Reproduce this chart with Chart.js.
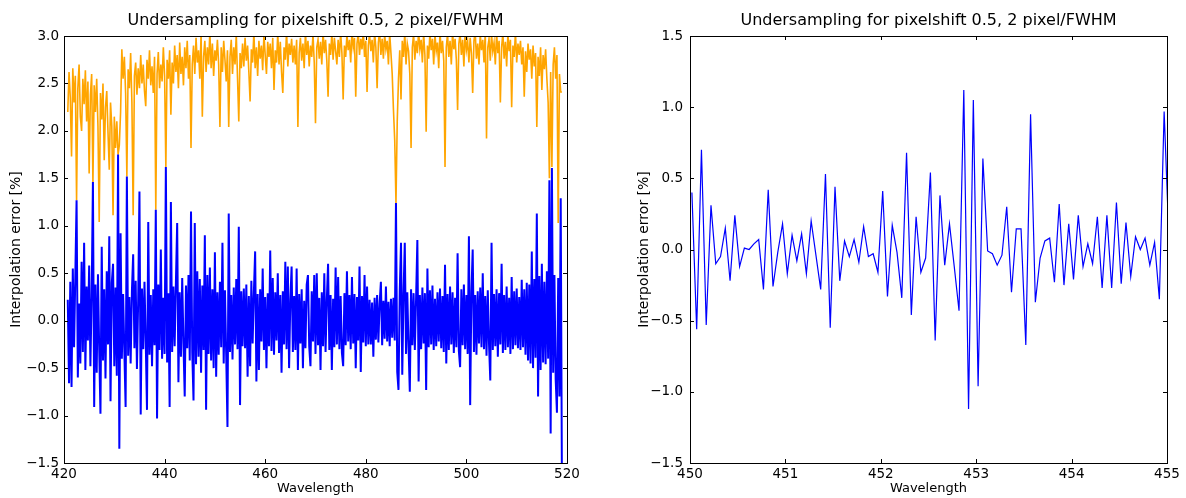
<!DOCTYPE html>
<html>
<head>
<meta charset="utf-8">
<title>Undersampling for pixelshift 0.5, 2 pixel/FWHM</title>
<script src="https://cdn.jsdelivr.net/npm/chart.js@4.4.0/dist/chart.umd.min.js"></script>
<style>
  html, body { margin: 0; padding: 0; background: #fff; }
  #wrap { position: relative; width: 1186px; height: 498px; }
  #left-chart { position: absolute; left: 0; top: 0; width: 590px; height: 498px; }
  #right-chart { position: absolute; left: 628px; top: 0; width: 558px; height: 498px; }
</style>
</head>
<body>
<div id="wrap">
  <canvas id="left-chart" width="590" height="498"></canvas>
  <canvas id="right-chart" width="558" height="498"></canvas>
</div>
<script>
/* Two panels: full spectrum (420-520 nm) and a 5 nm close-up of the error curve.
 * Values are read off the reference picture; the left panel is resampled to 0.25 nm,
 * the right panel keeps its 0.05 nm sampling. */

var plotTitle = 'Undersampling for pixelshift 0.5, 2 pixel/FWHM';
var xLabel = 'Wavelength';
var yLabel = 'Interpolation error [%]';

// left panel: sampling grid (first wavelength, step in nm)
var leftStart = 420.75;
var leftStep = 0.25;

// interpolation error over the whole range (blue), 20 samples = 5 nm per row
var errorFull = [
  0.22, -0.66, 0.41, -0.70, 0.55, -0.28, 0.47, 1.27, -0.60, 0.18, -0.45, 0.62, -0.33, 0.82, -0.52, 0.36, -0.21, 0.58, -0.48, 0.27,
  1.46, -0.91, 0.38, -0.55, 0.49, -0.30, -0.98, 0.78, -0.42, 0.33, -0.61, 0.52, -0.25, 0.89, -0.85, 0.40, 0.60, -0.48, 0.35, -0.58,
  1.75, -1.35, 0.92, -0.40, 0.28, -0.33, -0.91, 1.52, -0.37, 0.25, -0.45, 0.31, 0.70, -0.29, 0.42, -0.51, 0.22, 1.36, -0.99, 0.34,
  -0.30, 0.41, -0.22, -0.94, 1.04, -0.36, 0.27, -0.48, 0.33, -0.26, 1.17, -1.03, 0.38, -0.31, 0.75, -0.40, 0.24, -0.35, 1.62, -0.44,
  0.29, -0.91, 1.25, -0.33, 0.36, -0.27, 0.41, 1.03, -0.65, 0.30, -0.38, 0.45, -0.24, -0.80, 0.37, -0.29, 0.48, -0.42, 1.15, -0.34,
  -0.84, 1.03, -0.46, 0.52, -0.38, 0.44, -0.55, 0.37, -0.31, 0.90, -0.94, 0.48, -0.35, 0.56, -0.42, 0.33, -0.50, 0.72, -0.59, 0.30,
  -0.36, 0.41, -0.28, 0.82, -0.45, 0.32, -0.37, -1.12, 1.13, -0.33, 0.27, -0.41, 0.35, -0.25, 0.44, -0.30, 0.99, -0.89, 0.31, -0.27,
  0.34, -0.29, 0.38, -0.59, 0.26, -0.48, 0.42, -0.24, 0.30, 0.73, -0.64, 0.28, -0.52, 0.33, -0.22, 0.55, -0.31, 0.25, -0.50, 0.29,
  -0.27, 0.74, -0.32, 0.45, -0.36, 0.30, -0.21, 0.50, -0.34, 0.27, -0.55, 0.31, -0.25, 0.62, -0.30, 0.57, -0.50, 0.22, 0.57, -0.33,
  0.26, -0.31, 0.55, -0.52, 0.28, -0.24, 0.33, -0.50, 0.21, -0.29, 0.38, 0.48, -0.27, -0.48, 0.31, -0.22, 0.48, -0.35, 0.50, -0.26,
  0.24, -0.52, 0.30, -0.27, 0.50, -0.33, 0.22, 0.60, -0.31, 0.27, -0.52, 0.23, -0.28, 0.56, -0.25, 0.46, -0.30, 0.26, -0.34, -0.48,
  0.29, -0.26, 0.52, -0.22, 0.27, -0.30, 0.46, -0.24, 0.28, -0.50, 0.25, -0.21, 0.57, -0.54, 0.26, -0.23, 0.48, -0.27, 0.36, -0.25,
  0.22, -0.25, 0.19, -0.38, 0.24, -0.20, 0.27, -0.23, 0.18, 0.41, -0.26, 0.21, -0.19, 0.36, -0.22, 0.20, -0.27, 0.23, -0.18, 0.24,
  -0.21, 1.24, -0.54, -0.73, 0.31, 0.82, -0.57, 0.28, 0.82, -0.35, 0.30, -0.28, -0.75, 0.33, -0.26, 0.29, -0.31, 0.24, 0.85, -0.64,
  0.27, -0.30, 0.35, -0.24, 0.29, -0.73, 0.55, -0.28, 0.32, -0.25, 0.37, -0.31, 0.23, -0.27, 0.30, -0.22, 0.34, -0.29, 0.26, -0.33,
  0.59, -0.45, 0.28, -0.31, 0.36, -0.25, 0.30, -0.34, 0.24, -0.28, 0.71, -0.32, -0.49, 0.33, -0.26, 0.38, -0.30, 0.27, -0.35, 0.89,
  -0.89, 0.30, 0.75, -0.33, 0.27, -0.36, 0.31, -0.24, 0.35, -0.28, 0.50, -0.30, 0.26, -0.37, 0.32, -0.25, -0.63, 0.82, -0.31, 0.28,
  -0.27, 0.33, -0.38, 0.29, -0.25, 0.60, -0.34, 0.27, -0.31, 0.36, -0.28, 0.24, -0.35, 0.46, -0.30, 0.31, -0.26, 0.34, -0.29, 0.25,
  -0.31, 0.43, -0.28, 0.33, -0.36, 0.40, -0.42, 0.38, -0.45, 0.73, -0.50, 0.44, -0.39, 1.13, -0.80, 0.47, -0.52, 0.60, -0.44, 0.41,
  -0.46, 0.52, -0.40, 1.48, -1.19, 1.61, -0.55, 0.48, -0.62, -0.97, 0.45, -0.80, 1.29, -1.80
];

// scaled spectrum drawn above the error (orange), same grid
var spectrumScaled = [
  2.20, 2.62, 2.35, 1.73, 2.66, 2.30, 2.58, 1.27, 2.45, 2.70, 2.15, 2.00, 2.55, 2.28, 2.64, 2.10, 2.52, 1.55, 2.38, 2.60,
  1.45, 2.48, 2.20, 2.55, 2.05, 1.04, 2.40, 2.12, 2.50, 1.69, 2.25, 2.42, 1.98, 1.59, 2.30, 2.05, 1.11, 2.15, 1.82, 2.10,
  1.75, 1.85, 2.20, 2.86, 2.55, 2.78, 2.40, 1.52, 2.65, 2.45, 2.82, 2.30, 1.11, 2.58, 2.72, 2.38, 2.66, 2.45, 2.80, 2.50,
  2.70, 2.42, 2.26, 2.75, 2.55, 2.85, 2.48, 2.68, 2.40, 2.78, 1.17, 2.60, 2.83, 2.45, 2.70, 2.52, 2.88, 2.58, 1.62, 2.75,
  2.55, 2.85, 2.17, 2.72, 2.50, 2.90, 2.62, 2.80, 2.45, 2.93, 2.60, 2.78, 2.48, 2.88, 2.66, 2.95, 2.55, 2.80, 1.82, 2.70,
  2.90, 2.60, 2.98, 2.72, 2.85, 2.55, 3.02, 2.15, 2.78, 2.95, 2.62, 2.88, 2.70, 3.05, 2.66, 2.92, 2.58, 2.85, 2.74, 2.96,
  2.70, 2.04, 2.88, 2.62, 2.95, 2.75, 2.52, 2.85, 2.04, 2.78, 2.96, 2.60, 2.88, 2.70, 3.02, 2.55, 2.10, 2.82, 2.66, 2.92,
  2.68, 2.98, 2.74, 2.90, 2.62, 2.31, 2.86, 2.72, 3.04, 2.66, 2.88, 2.58, 2.95, 2.76, 2.90, 2.64, 3.02, 2.80, 2.60, 2.94,
  2.78, 2.92, 2.66, 2.98, 2.43, 2.85, 2.72, 3.03, 2.70, 2.94, 2.62, 2.40, 2.88, 2.75, 3.05, 2.68, 2.92, 2.80, 2.97, 2.72,
  2.90, 2.70, 2.96, 2.04, 2.82, 2.98, 2.74, 2.92, 2.66, 3.04, 2.80, 2.95, 2.68, 2.90, 2.78, 3.02, 2.72, 2.08, 2.88, 2.96,
  2.76, 2.94, 2.70, 3.05, 2.82, 2.96, 2.74, 2.36, 2.92, 2.80, 3.03, 2.75, 2.98, 2.84, 2.70, 2.96, 2.78, 3.04, 2.82, 2.33,
  2.90, 2.78, 3.02, 2.85, 2.96, 2.72, 3.05, 2.88, 2.98, 2.36, 2.92, 3.03, 2.80, 2.97, 2.86, 3.06, 2.78, 2.95, 2.41, 2.90,
  3.02, 2.84, 2.96, 2.72, 3.04, 2.88, 2.45, 2.93, 3.05, 2.80, 2.97, 2.76, 3.02, 2.86, 2.95, 2.70, 3.03, 2.82, 2.60, 2.22,
  1.90, 1.24, 2.10, 2.55, 2.85, 2.33, 2.95, 2.78, 3.04, 2.70, 2.92, 2.84, 2.60, 1.82, 2.88, 3.02, 2.75, 2.95, 2.82, 3.05,
  2.86, 2.96, 2.72, 3.03, 2.80, 1.99, 2.90, 2.76, 3.04, 2.85, 2.97, 2.70, 3.02, 2.84, 2.93, 2.66, 3.05, 2.82, 2.95, 2.74,
  1.62, 2.88, 3.02, 2.78, 2.95, 2.70, 3.04, 2.86, 2.97, 2.75, 2.22, 2.92, 3.03, 2.80, 2.96, 2.68, 3.05, 2.85, 2.94, 2.72,
  2.98, 2.82, 2.40, 2.95, 3.04, 2.76, 2.92, 2.70, 3.02, 2.85, 2.96, 2.72, 3.05, 1.92, 2.88, 2.97, 2.74, 3.02, 2.84, 2.93,
  2.70, 3.04, 2.82, 2.95, 2.30, 2.88, 3.03, 2.76, 2.94, 2.68, 3.02, 2.84, 2.96, 2.25, 2.90, 2.78, 3.04, 2.72, 2.92, 2.80,
  2.95, 2.70, 2.88, 2.36, 2.84, 2.62, 2.92, 2.75, 2.86, 2.55, 2.90, 2.68, 2.82, 2.04, 2.78, 2.58, 2.88, 2.43, 2.80, 2.65,
  2.86, 2.55, 2.30, 1.50, 2.62, 1.62, 2.70, 2.88, 2.55, 2.80, 1.03, 2.60, 2.41, 2.41
];

// right panel: close-up 450-455 nm, 0.05 nm sampling (last sample lies just past the axis)
var zoomStart = 450.02;
var zoomStep = 0.05;
var errorZoom = [
  0.40, -0.56, 0.70, -0.53, 0.31, -0.10, -0.05, 0.15, -0.22, 0.24,
  -0.12, 0.01, 0.00, 0.04, 0.07, -0.28, 0.42, -0.26, -0.02, 0.18,
  -0.17, 0.10, -0.08, 0.11, -0.17, 0.20, -0.04, -0.28, 0.53, -0.55,
  0.44, -0.22, 0.06, -0.05, 0.07, -0.09, 0.16, -0.05, -0.03, -0.16,
  0.41, -0.33, 0.17, -0.02, -0.34, 0.68, -0.46, 0.23, -0.16, -0.06,
  0.54, -0.64, 0.38, -0.11, 0.18, -0.12, -0.43, 1.12, -1.12, 1.05,
  -0.96, 0.64, -0.01, -0.03, -0.11, -0.04, 0.30, -0.30, 0.145, 0.145,
  -0.67, 0.95, -0.37, -0.06, 0.06, 0.08, -0.23, 0.32, -0.25, 0.18,
  -0.21, 0.24, -0.12, 0.04, -0.10, 0.23, -0.27, 0.24, -0.27, 0.33,
  -0.24, 0.19, -0.19, 0.09, 0.00, 0.08, -0.11, 0.05, -0.35, 0.97,
  0.08
];

// axis ticks
var leftXTicks = [420, 440, 460, 480, 500, 520];
var leftYTicks = [-1.5, -1.0, -0.5, 0.0, 0.5, 1.0, 1.5, 2.0, 2.5, 3.0];
var rightXTicks = [450, 451, 452, 453, 454, 455];
var rightYTicks = [-1.5, -1.0, -0.5, 0.0, 0.5, 1.0, 1.5];

var FONT = "'DejaVu Sans', 'Bitstream Vera Sans', sans-serif";

function toPoints(start, step, values) {
  return values.map(function (v, i) { return { x: start + i * step, y: v }; });
}

function fmtY(v) {
  return (v < 0 ? '\u2212' : '') + Math.abs(v).toFixed(1);
}

// matplotlib-style box with ticks pointing inwards on all four sides
var frameTicks = {
  id: 'frameTicks',
  afterDraw: function (chart) {
    var a = chart.chartArea;
    var ctx = chart.ctx;
    var xs = chart.scales.x;
    var ys = chart.scales.y;
    var len = 4;
    ctx.save();
    ctx.strokeStyle = '#000';
    ctx.lineWidth = 1;
    ctx.beginPath();
    xs.ticks.forEach(function (t) {
      var px = Math.round(xs.getPixelForValue(t.value)) + 0.5;
      ctx.moveTo(px, a.bottom);
      ctx.lineTo(px, a.bottom - len);
      ctx.moveTo(px, a.top);
      ctx.lineTo(px, a.top + len);
    });
    ys.ticks.forEach(function (t) {
      var py = Math.round(ys.getPixelForValue(t.value)) + 0.5;
      ctx.moveTo(a.left, py);
      ctx.lineTo(a.left + len, py);
      ctx.moveTo(a.right, py);
      ctx.lineTo(a.right - len, py);
    });
    ctx.stroke();
    ctx.strokeRect(Math.round(a.left) + 0.5, Math.round(a.top) + 0.5,
      Math.round(a.right - a.left), Math.round(a.bottom - a.top));
    ctx.restore();
  }
};

function lineSet(points, color, width) {
  return {
    data: points,
    borderColor: color,
    borderWidth: width,
    pointRadius: 0,
    tension: 0,
    fill: false
  };
}

function panelOptions(cfg) {
  return {
    responsive: false,
    animation: false,
    devicePixelRatio: 1,
    layout: { padding: { left: 0, right: cfg.padRight, top: 0, bottom: 0 } },
    plugins: {
      legend: { display: false },
      tooltip: { enabled: false },
      title: {
        display: true,
        text: plotTitle,
        fullSize: false,
        color: '#000',
        font: { family: FONT, size: 16, weight: 'normal', lineHeight: 1.2 },
        padding: { top: 11, bottom: 5.8 }
      }
    },
    scales: {
      x: {
        type: 'linear',
        min: cfg.xMin,
        max: cfg.xMax,
        afterBuildTicks: function (s) {
          s.ticks = cfg.xTicks.map(function (v) { return { value: v }; });
        },
        afterFit: function (s) { s.height = 35; },
        grid: { display: false, drawTicks: false },
        border: { display: false },
        ticks: {
          color: '#000',
          font: { family: FONT, size: 13.5 },
          padding: 3,
          maxRotation: 0,
          autoSkip: false,
          callback: function (v) { return String(v); }
        },
        title: {
          display: true,
          text: xLabel,
          color: '#000',
          font: { family: FONT, size: 13, lineHeight: 1.2 },
          padding: { top: 0, bottom: 2 }
        }
      },
      y: {
        type: 'linear',
        min: cfg.yMin,
        max: cfg.yMax,
        afterBuildTicks: function (s) {
          s.ticks = cfg.yTicks.map(function (v) { return { value: v }; });
        },
        afterFit: function (s) { s.width = cfg.yWidth; },
        grid: { display: false, drawTicks: false },
        border: { display: false },
        ticks: {
          color: '#000',
          font: { family: FONT, size: 13.5 },
          padding: cfg.yPad,
          autoSkip: false,
          callback: function (v) { return fmtY(v); }
        },
        title: {
          display: true,
          text: yLabel,
          color: '#000',
          font: { family: FONT, size: 14, lineHeight: 1.2 },
          padding: { top: 7.5, bottom: 0 }
        }
      }
    }
  };
}

function drawLeftPanel() {
  var ctx = document.getElementById('left-chart').getContext('2d');
  new Chart(ctx, {
    type: 'line',
    data: {
      datasets: [
        lineSet(toPoints(leftStart, leftStep, errorFull), '#0000ff', 2),
        lineSet(toPoints(leftStart, leftStep, spectrumScaled), '#ffa500', 1.6)
      ]
    },
    options: panelOptions({
      xMin: 420, xMax: 520, xTicks: leftXTicks,
      yMin: -1.5, yMax: 3.0, yTicks: leftYTicks,
      yWidth: 64, yPad: 5, padRight: 23
    }),
    plugins: [frameTicks]
  });
}

function drawRightPanel() {
  var ctx = document.getElementById('right-chart').getContext('2d');
  new Chart(ctx, {
    type: 'line',
    data: {
      datasets: [lineSet(toPoints(zoomStart, zoomStep, errorZoom), '#0000ff', 1.2)]
    },
    options: panelOptions({
      xMin: 450, xMax: 455, xTicks: rightXTicks,
      yMin: -1.5, yMax: 1.5, yTicks: rightYTicks,
      yWidth: 62, yPad: 7, padRight: 19
    }),
    plugins: [frameTicks]
  });
}

drawLeftPanel();
drawRightPanel();
</script>
</body>
</html>
